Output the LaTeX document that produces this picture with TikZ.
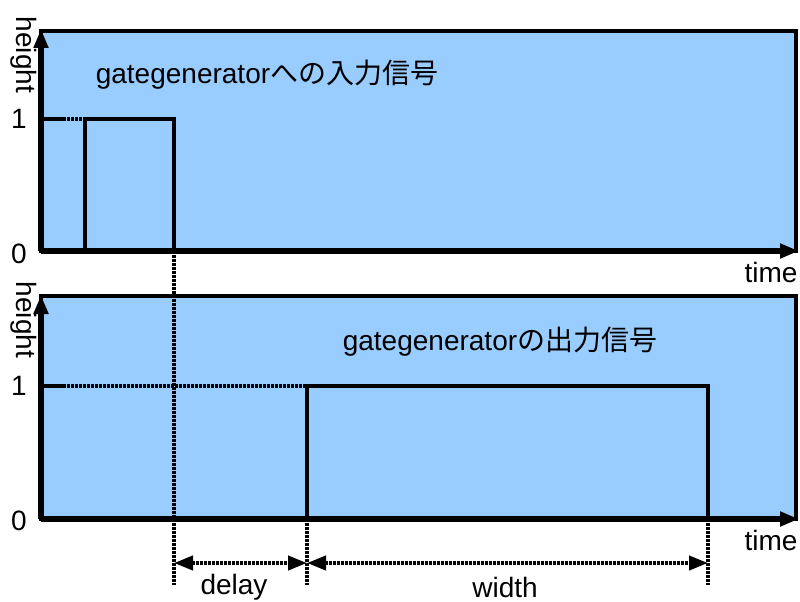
\documentclass[tikz,border=0pt]{standalone}
\usepackage{fontspec}
\setmainfont{Liberation Sans}
\newfontfamily\jpfont{Noto Sans CJK JP}
\usetikzlibrary{arrows.meta}
\definecolor{panelblue}{HTML}{99CCFF}
\begin{document}
\begin{tikzpicture}[x=1pt,y=-1pt]
\tikzset{
  panel/.style={fill=panelblue, draw=black, line width=4.5pt},
  axis/.style={line width=5.5pt, -{Triangle[length=19pt,width=14pt]}},
  sig/.style={line width=4.5pt, line join=miter},
  dots/.style={line width=4pt, dash pattern=on 2.7pt off 1.3pt},
  dim/.style={line width=4pt, dash pattern=on 2.7pt off 1.3pt, {Triangle[length=19pt,width=14pt]}-{Triangle[length=19pt,width=14pt]}},
  lbl/.style={font=\fontsize{28}{32}\selectfont, inner sep=0pt},
}
\useasboundingbox (0,0) rectangle (800,602);
% panels
\fill[white] (0,0) rectangle (800,602);
\draw[panel] (41,31) rectangle (796,251);
\draw[panel] (41,296) rectangle (796,519);
% coordinates top
\coordinate (o1) at (41,251);
\coordinate (y1top) at (41,29);
\coordinate (x1end) at (799,251);
\coordinate (a1) at (41,119);
\coordinate (a2) at (63,119);
\coordinate (a3) at (85,119);
\coordinate (a4) at (85,251);
\coordinate (a5) at (174,119);
\coordinate (a6) at (174,251);
\coordinate (d1) at (174,585);
% coordinates bottom
\coordinate (o2) at (41,519);
\coordinate (y2top) at (41,295);
\coordinate (x2end) at (799,519);
\coordinate (b1) at (41,386);
\coordinate (b2) at (63,386);
\coordinate (b3) at (307,386);
\coordinate (b4) at (307,519);
\coordinate (b5) at (708,386);
\coordinate (b6) at (708,519);
\coordinate (d2) at (307,585);
\coordinate (d3) at (708,585);
\coordinate (m1) at (174,563);
\coordinate (m2) at (307,563);
\coordinate (m3) at (708,563);
% top signal
\draw[sig] (a1) -- (a2);
\draw[dots] (a2) -- (a3);
\draw[sig] (a4) -- (a3) -- (a5) -- (a6);
% bottom signal
\draw[sig] (b1) -- (b2);
\draw[dots] (b2) -- (b3);
\draw[sig] (b4) -- (b3) -- (b5) -- (b6);
% dotted guides
\draw[dots] (a6) -- (d1);
\draw[dots] (b4) -- (d2);
\draw[dots] (b6) -- (d3);
% axes
\draw[axis] (o1) -- (y1top);
\draw[axis] (o1) -- (x1end);
\draw[axis] (o2) -- (y2top);
\draw[axis] (o2) -- (x2end);
% dimensions
\draw[dim] (m1) -- (m2);
\draw[dim] (m2) -- (m3);
% labels
\node[lbl, rotate=-90] (h1) at (24,55) {height};
\node[lbl, rotate=-90] (h2) at (24,320) {height};
\node[lbl] (one1) at (19,119) {1};
\node[lbl] (zero1) at (19,254) {0};
\node[lbl] (one2) at (19,386) {1};
\node[lbl] (zero2) at (19,521) {0};
\node[lbl] (t1) at (771,272) {time};
\node[lbl] (t2) at (771,540) {time};
\node[lbl] (title1) at (267,75) {gategenerator{\jpfont への入力信号}};
\node[lbl] (title2) at (500,342) {gategenerator{\jpfont の出力信号}};
\node[lbl] (delay) at (234,587) {delay};
\node[lbl] (width) at (505,587) {width};
\end{tikzpicture}
\end{document}
